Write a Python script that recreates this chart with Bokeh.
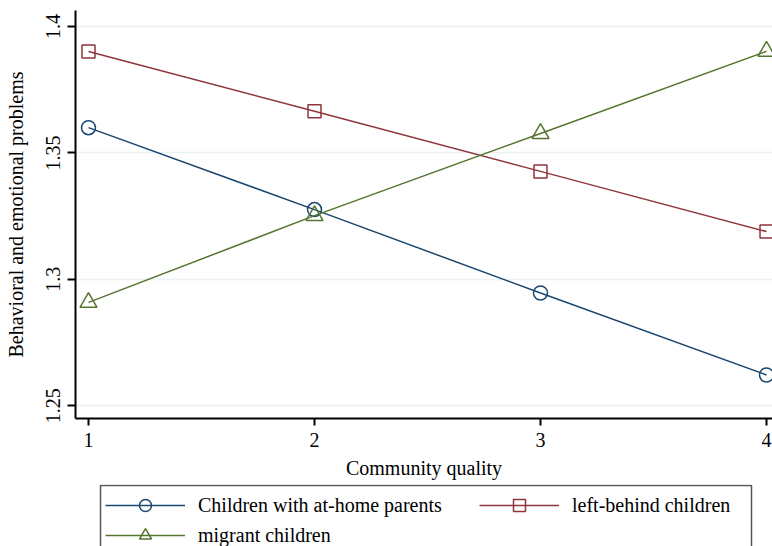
from bokeh.plotting import figure
from bokeh.layouts import column
from bokeh.models import Legend, LegendItem, FixedTicker, Range1d
from bokeh.embed import file_html
from bokeh.resources import INLINE

quality = [1, 2, 3, 4]
at_home = [1.3600, 1.3276, 1.2946, 1.2622]
left_behind = [1.3901, 1.3665, 1.3427, 1.3189]
migrant = [1.2909, 1.3252, 1.3577, 1.3902]
x_ticks = [1, 2, 3, 4]
y_ticks = [1.25, 1.3, 1.35, 1.4]
y_tick_labels = ["1.25", "1.3", "1.35", "1.4"]
names = ["Children with at-home parents", "left-behind children", "migrant children"]

FONT = "Liberation Serif"
NAVY = "#1a476f"
MAROON = "#90353b"
GREEN = "#55752f"

p = figure(width=772, height=484, output_backend="svg", toolbar_location=None,
           x_range=Range1d(0.9425, 4.0265), y_range=Range1d(1.24498, 1.40633),
           min_border_left=75, min_border_right=0, min_border_top=10, min_border_bottom=66)
p.outline_line_color = None
p.background_fill_color = "white"
p.border_fill_color = "white"

p.xgrid.grid_line_color = None
p.ygrid.grid_line_color = "#eaf2f3"
p.ygrid.grid_line_width = 1.5
p.ygrid.ticker = FixedTicker(ticks=y_ticks)

p.xaxis.ticker = FixedTicker(ticks=x_ticks)
p.yaxis.ticker = FixedTicker(ticks=y_ticks)
p.yaxis.major_label_overrides = {t: l for t, l in zip(y_ticks, y_tick_labels)}
p.yaxis.major_label_orientation = "vertical"

for ax in (p.xaxis[0], p.yaxis[0]):
    ax.axis_line_color = "black"
    ax.axis_line_width = 2
    ax.major_tick_line_color = "black"
    ax.major_tick_line_width = 2
    ax.major_tick_in = 0
    ax.minor_tick_line_color = None
    ax.major_label_text_font = FONT
    ax.major_label_text_font_size = "20px"
    ax.major_label_text_color = "black"
    ax.axis_label_text_font = FONT
    ax.axis_label_text_font_size = "20px"
    ax.axis_label_text_font_style = "normal"
    ax.axis_label_text_color = "black"

p.xaxis.major_tick_out = 7
p.yaxis.major_tick_out = 8
p.xaxis.major_label_standoff = 7
p.yaxis.major_label_standoff = 7
p.xaxis.axis_label_standoff = 7
p.yaxis.axis_label_standoff = 17
p.xaxis.axis_label = "Community quality"
p.yaxis.axis_label = "Behavioral and emotional problems"

p.line(quality, at_home, line_color=NAVY, line_width=1.5)
p.scatter(quality, at_home, marker="circle", size=14, fill_color=None,
          line_color=NAVY, line_width=1.5)
p.line(quality, left_behind, line_color=MAROON, line_width=1.5)
p.scatter(quality, left_behind, marker="square", size=13, fill_color=None,
          line_color=MAROON, line_width=1.5)
p.line(quality, migrant, line_color=GREEN, line_width=1.5)
p.scatter(quality, migrant, marker="triangle", size=17, fill_color=None,
          line_color=GREEN, line_width=1.5)

# legend strip below the plot (bottom edge cut off as in the reference).
# Its ranges are in pixel units of the page so the legend frame can be placed;
# the key renderers reuse the series but fall outside these ranges.
p2 = figure(width=772, height=62, output_backend="svg", toolbar_location=None,
            x_range=Range1d(75, 772), y_range=Range1d(546, 484),
            x_axis_location=None, y_axis_location=None, min_border=0)
p2.outline_line_color = None
p2.grid.grid_line_color = None

# legend frame (layout decoration)
p2.quad(left=[100], right=[751], top=[485], bottom=[570],
        fill_color="white", line_color="#555555", line_width=1.5)

k1l = p2.line(quality, at_home, line_color=NAVY, line_width=1.5)
k1m = p2.scatter(quality, at_home, marker="circle", fill_color=None, line_color=NAVY, line_width=1.5)
k2l = p2.line(quality, left_behind, line_color=MAROON, line_width=1.5)
k2m = p2.scatter(quality, left_behind, marker="square", fill_color=None, line_color=MAROON, line_width=1.5)
k3l = p2.line(quality, migrant, line_color=GREEN, line_width=1.5)
k3m = p2.scatter(quality, migrant, marker="triangle", fill_color=None, line_color=GREEN, line_width=1.5)

def style(lg):
    lg.label_text_font = FONT
    lg.label_text_font_size = "20px"
    lg.label_text_color = "black"
    lg.glyph_width = 80
    lg.glyph_height = 30
    lg.label_standoff = 13
    lg.label_height = 30
    lg.spacing = 0
    lg.padding = 5
    lg.margin = 0
    lg.click_policy = "none"
    lg.border_line_color = None
    lg.background_fill_alpha = 0.0

# p2's frame is aligned with p's frame (left edge at x=75)
leg1 = Legend(items=[LegendItem(label=names[0], renderers=[k1l, k1m]),
                     LegendItem(label=names[2], renderers=[k3l, k3m])],
              location=(30, -4))
style(leg1)

leg2 = Legend(items=[LegendItem(label=names[1], renderers=[k2l, k2m])],
              location=(404, 26))
style(leg2)

p2.add_layout(leg1, "center")
p2.add_layout(leg2, "center")

layout = column(p, p2, spacing=0)
open("out.html", "w").write(file_html(layout, INLINE))
